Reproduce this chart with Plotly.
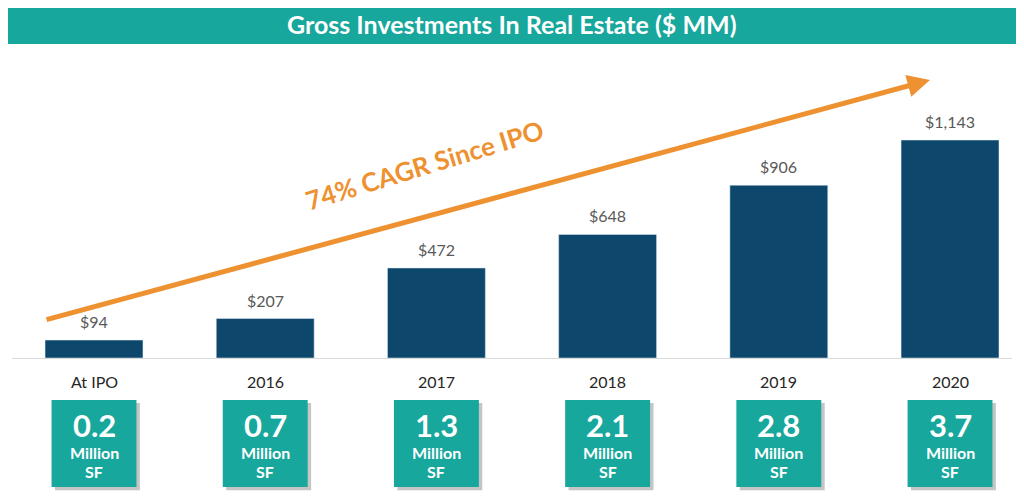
import plotly.graph_objects as go

categories = ["At IPO", "2016", "2017", "2018", "2019", "2020"]
investments = [94, 207, 472, 648, 906, 1143]
bar_labels = ["$94", "$207", "$472", "$648", "$906", "$1,143"]
sf_values = ["0.2", "0.7", "1.3", "2.1", "2.8", "3.7"]
title_text = "Gross Investments In Real Estate ($ MM)"
cagr_text = "74% CAGR Since IPO"

NAVY = "#0d486c"
TEAL = "#17a79c"
ORANGE = "#ee9130"
GRAY_TXT = "#595959"

xs = list(range(len(categories)))

fig = go.Figure()
fig.add_trace(go.Bar(x=xs, y=investments, marker_color=NAVY, width=0.572,
                     hoverinfo="skip"))

annotations = []
shapes = []

# value labels above bars
for x, v, t in zip(xs, investments, bar_labels):
    annotations.append(dict(x=x, y=v, xref="x", yref="y", text=t, showarrow=False,
                            yanchor="bottom", yshift=7,
                            font=dict(family="Lato", size=16, color=GRAY_TXT)))

# category labels
for x, c in zip(xs, categories):
    annotations.append(dict(x=x, y=-0.075, xref="x", yref="paper", text=c, showarrow=False,
                            yanchor="middle",
                            font=dict(family="Lato", size=16, color="#262626")))

# SF boxes
for x, s in zip(xs, sf_values):
    shapes.append(dict(type="rect", xref="x", yref="paper",
                       x0=x - 0.248 + 0.02, x1=x + 0.248 + 0.02,
                       y0=-0.429, y1=-0.146, line=dict(width=0),
                       fillcolor="rgba(90,90,90,0.35)", layer="above"))
    shapes.append(dict(type="rect", xref="x", yref="paper",
                       x0=x - 0.248, x1=x + 0.248, y0=-0.419, y1=-0.136,
                       line=dict(width=0), fillcolor=TEAL, layer="above"))
    annotations.append(dict(x=x, y=-0.2175, xref="x", yref="paper", text="<b>%s</b>" % s,
                            showarrow=False, yanchor="middle",
                            font=dict(family="Lato", size=31, color="white")))
    annotations.append(dict(x=x, y=-0.308, xref="x", yref="paper", text="<b>Million</b>",
                            showarrow=False, yanchor="middle",
                            font=dict(family="Lato", size=16, color="white")))
    annotations.append(dict(x=x, y=-0.370, xref="x", yref="paper", text="<b>SF</b>",
                            showarrow=False, yanchor="middle",
                            font=dict(family="Lato", size=16, color="white")))

# title bar
shapes.append(dict(type="rect", xref="paper", yref="paper", x0=-0.004, x1=1.005,
                   y0=1.0195, y1=1.1396, line=dict(width=0), fillcolor=TEAL))
annotations.append(dict(x=0.5, y=1.0844, xref="paper", yref="paper", text="<b>%s</b>" % title_text,
                        showarrow=False, yanchor="middle",
                        font=dict(family="Lato", size=25, color="white")))

# CAGR arrow
annotations.append(dict(x=4.883, y=1458, ax=-0.286, ay=199, xref="x", yref="y",
                        axref="x", ayref="y", text="", showarrow=True,
                        arrowhead=2, arrowsize=0.9, arrowwidth=5, arrowcolor=ORANGE))
annotations.append(dict(x=1.93, y=1012, xref="x", yref="y", text="<b>%s</b>" % cagr_text,
                        showarrow=False, textangle=-17,
                        font=dict(family="Lato", size=26, color=ORANGE)))

fig.update_layout(
    width=1024, height=497,
    margin=dict(l=4, r=20, t=42, b=147),
    paper_bgcolor="white", plot_bgcolor="white",
    showlegend=False,
    xaxis=dict(range=[-0.479, 5.362], showticklabels=False, showgrid=False,
               zeroline=False, showline=True, linecolor="#d9d9d9", linewidth=1,
               fixedrange=True),
    yaxis=dict(range=[0, 1615], visible=False, fixedrange=True),
    shapes=shapes, annotations=annotations,
)

fig.write_html("out.html", config={"displayModeBar": False})
